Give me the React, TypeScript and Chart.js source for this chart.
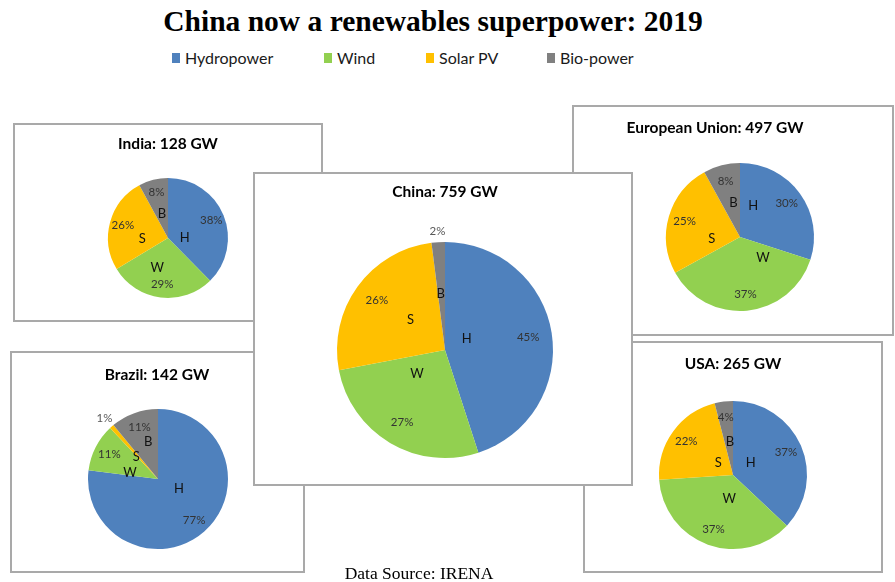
import React, { useEffect, useRef } from "react";
import { Chart, registerables } from "chart.js";

Chart.register(...registerables);

// ---------- data ----------
const categories = ["Hydropower", "Wind", "Solar PV", "Bio-power"];
const sliceLetters = ["H", "W", "S", "B"];
const sliceColors = ["#4F81BD", "#92D050", "#FFC000", "#808080"];

const indiaShares = [38, 29, 26, 8];
const euShares = [30, 37, 25, 8];
const chinaShares = [45, 27, 26, 2];
const brazilShares = [77, 11, 1, 11];
const usaShares = [37, 37, 22, 4];

const panelNames = ["India", "European Union", "Brazil", "USA", "China"];
const panelCapacityGW = [128, 497, 142, 265, 759];
const panelShares = [indiaShares, euShares, brazilShares, usaShares, chinaShares];

const mainTitle = "China now a renewables superpower: 2019";
const sourceNote = "Data Source: IRENA";

// ---------- layout (page pixels) ----------
type Layout = {
  x: number; y: number; w: number; h: number;
  cx: number; cy: number; r: number;
  tx: number; ty: number;
  letters: [number, number][];
};
const layouts: Layout[] = [
  { x: 13, y: 123, w: 310, h: 199, cx: 168, cy: 238, r: 60, tx: 168, ty: 144,
    letters: [[0.28, 0.0], [-0.18, 0.5], [-0.43, 0.02], [-0.1, -0.4]] },
  { x: 572, y: 105, w: 322, h: 231, cx: 740, cy: 237, r: 74, tx: 715, ty: 128,
    letters: [[0.18, -0.42], [0.31, 0.28], [-0.38, 0.03], [-0.09, -0.46]] },
  { x: 10, y: 351, w: 295, h: 222, cx: 158, cy: 479, r: 70, tx: 157, ty: 375,
    letters: [[0.3, 0.14], [-0.4, -0.09], [-0.31, -0.31], [-0.14, -0.53]] },
  { x: 583, y: 341, w: 300, h: 232, cx: 733, cy: 475, r: 74, tx: 733, ty: 364,
    letters: [[0.24, -0.16], [-0.05, 0.32], [-0.2, -0.16], [-0.04, -0.45]] },
  { x: 253, y: 172, w: 380, h: 314, cx: 445, cy: 350, r: 108, tx: 445, ty: 192,
    letters: [[0.2, -0.1], [-0.26, 0.22], [-0.32, -0.28], [-0.04, -0.52]] },
];

const BORDER = 2;
const SANS = "Lato, 'Noto Sans', sans-serif";
const SERIF = "'Liberation Serif', 'DejaVu Serif', serif";

function PiePanel({ index }: { index: number }) {
  const ref = useRef<HTMLCanvasElement | null>(null);
  const L = layouts[index];
  const cw = L.w - 2 * BORDER;
  const ch = L.h - 2 * BORDER;

  useEffect(() => {
    const canvas = ref.current;
    if (!canvas) return;
    const ox = L.x + BORDER;
    const oy = L.y + BORDER;
    const cx = L.cx - ox;
    const cy = L.cy - oy;
    const title = `${panelNames[index]}: ${panelCapacityGW[index]} GW`;
    const values = panelShares[index];

    const labelPlugin = {
      id: "panelLabels",
      afterDatasetsDraw(chart: any) {
        const ctx = chart.ctx as CanvasRenderingContext2D;
        const meta = chart.getDatasetMeta(0);
        ctx.save();
        ctx.textAlign = "center";
        ctx.textBaseline = "middle";
        ctx.fillStyle = "#000000";
        ctx.font = `bold 15.5px ${SANS}`;
        ctx.fillText(title, L.tx - ox, L.ty - oy);
        meta.data.forEach((arc: any, i: number) => {
          const p = arc.getProps(["x", "y", "startAngle", "endAngle", "outerRadius"], true);
          const mid = (p.startAngle + p.endAngle) / 2;
          const v = values[i];
          const small = v < 3;
          const d = small ? p.outerRadius + 11 : p.outerRadius * 0.78;
          ctx.font = `11.5px ${SANS}`;
          ctx.fillStyle = small ? "#595959" : "#333333";
          ctx.fillText(`${v}%`, p.x + Math.cos(mid) * d, p.y + Math.sin(mid) * d);
          const [fx, fy] = L.letters[i];
          ctx.font = `13px ${SANS}`;
          ctx.fillStyle = "#111111";
          ctx.fillText(sliceLetters[i], p.x + fx * p.outerRadius, p.y + fy * p.outerRadius);
        });
        ctx.restore();
      },
    };

    const chart = new Chart(canvas, {
      type: "pie",
      data: {
        labels: categories,
        datasets: [
          {
            data: values,
            backgroundColor: sliceColors,
            borderWidth: 0,
          },
        ],
      },
      options: {
        responsive: false,
        animation: false,
        events: [],
        layout: {
          padding: {
            left: cx - L.r,
            top: cy - L.r,
            right: cw - (cx + L.r),
            bottom: ch - (cy + L.r),
          },
        },
        plugins: {
          legend: { display: false },
          tooltip: { enabled: false },
          title: { display: false },
        },
      },
      plugins: [labelPlugin],
    });
    return () => chart.destroy();
  }, [index]);

  return (
    <div
      style={{
        position: "absolute",
        left: L.x,
        top: L.y,
        width: L.w,
        height: L.h,
        boxSizing: "border-box",
        border: `${BORDER}px solid #a9a9a9`,
        background: "#ffffff",
      }}
    >
      <canvas ref={ref} width={cw} height={ch} style={{ display: "block", width: cw, height: ch }} />
    </div>
  );
}

const legendLayout = [
  { sx: 172, tx: 185 },
  { sx: 324, tx: 337 },
  { sx: 426, tx: 439 },
  { sx: 547, tx: 560 },
];

export default function App() {
  return (
    <div
      style={{
        position: "absolute",
        left: 0,
        top: 0,
        width: 895,
        height: 582,
        background: "#ffffff",
        overflow: "hidden",
      }}
    >
      <div
        style={{
          position: "absolute",
          left: 0,
          top: 3,
          width: 866,
          textAlign: "center",
          fontFamily: SERIF,
          fontWeight: "bold",
          fontSize: 29.5,
          lineHeight: "36px",
          color: "#000",
          whiteSpace: "nowrap",
        }}
      >
        {mainTitle}
      </div>
      {categories.map((c, i) => (
        <React.Fragment key={c}>
          <div
            style={{
              position: "absolute",
              left: legendLayout[i].sx,
              top: 53,
              width: 8,
              height: 10,
              background: sliceColors[i],
            }}
          />
          <div
            style={{
              position: "absolute",
              left: legendLayout[i].tx,
              top: 48,
              fontFamily: SANS,
              fontSize: 16,
              lineHeight: "20px",
              color: "#1a1a1a",
              whiteSpace: "nowrap",
            }}
          >
            {c}
          </div>
        </React.Fragment>
      ))}
      {layouts.map((_, i) => (
        <PiePanel key={i} index={i} />
      ))}
      <div
        style={{
          position: "absolute",
          left: 0,
          top: 563,
          width: 838,
          textAlign: "center",
          fontFamily: SERIF,
          fontSize: 17.5,
          lineHeight: "20px",
          color: "#000",
          whiteSpace: "nowrap",
        }}
      >
        {sourceNote}
      </div>
    </div>
  );
}
